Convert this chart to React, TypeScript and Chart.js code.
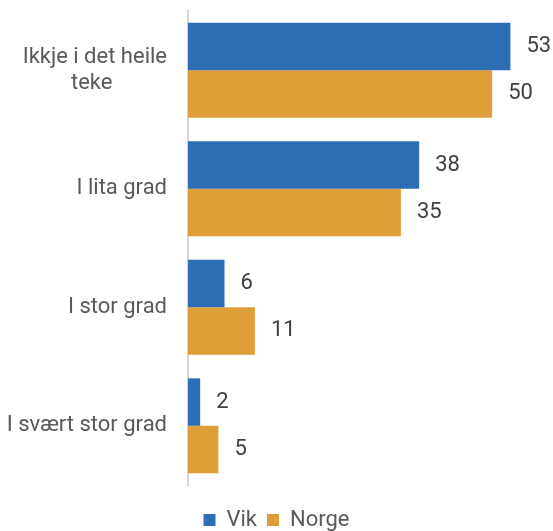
import React, { useEffect, useRef } from "react";
import { Chart, registerables } from "chart.js";

Chart.register(...registerables);

const categories: (string | string[])[] = [["Ikkje i det heile", "teke          "], "I lita grad", "I stor grad", "I svært stor grad"];
const vikValues = [53, 38, 6, 2];
const norgeValues = [50, 35, 11, 5];
const seriesNames = ["Vik", "Norge"];

const FONT = "Roboto, 'Noto Sans', sans-serif";
const FS = 22;

const labelPlugin = {
  id: "barLabels",
  afterDatasetsDraw(chart: any) {
    const ctx = chart.ctx;
    ctx.save();
    ctx.font = `${FS}px ${FONT}`;
    ctx.fillStyle = "#404040";
    ctx.textAlign = "left";
    ctx.textBaseline = "middle";
    chart.data.datasets.forEach((ds: any, i: number) => {
      const meta = chart.getDatasetMeta(i);
      meta.data.forEach((bar: any, j: number) => {
        ctx.fillText(String(ds.data[j]), bar.x + 16, bar.y);
      });
    });
    ctx.restore();
  },
};

export default function App() {
  const ref = useRef<HTMLCanvasElement>(null);
  useEffect(() => {
    if (!ref.current) return;
    const chart = new Chart(ref.current, {
      type: "bar",
      data: {
        labels: categories,
        datasets: [
          { label: seriesNames[0], data: vikValues, backgroundColor: "#2C6DB4" },
          { label: seriesNames[1], data: norgeValues, backgroundColor: "#DF9F38" },
        ],
      },
      options: {
        indexAxis: "y",
        responsive: false,
        animation: false,
        layout: { padding: { top: 11, right: 0, left: 0, bottom: -10 } },
        datasets: { bar: { categoryPercentage: 0.8, barPercentage: 1 } },
        scales: {
          x: {
            display: true,
            min: 0,
            max: 60,
            grid: { display: false, drawTicks: false },
            border: { display: false },
            ticks: { display: false },
            afterFit: (s: any) => {
              s.height = 14;
              s.paddingLeft = 0;
              s.paddingRight = 0;
            },
          },
          y: {
            grid: { display: false, drawTicks: false },
            border: { display: true, color: "#d6d6d6", width: 2 },
            ticks: { color: "#595959", font: { family: FONT, size: FS, lineHeight: 1.2 }, padding: 21 },
            afterFit: (s: any) => {
              s.width = 188;
              s.paddingTop = 0;
              s.paddingBottom = 0;
            },
          },
        },
        plugins: {
          legend: {
            position: "bottom",
            labels: { color: "#595959", font: { family: FONT, size: FS }, boxWidth: 12, boxHeight: 12, padding: 10 },
          },
          tooltip: { enabled: false },
        },
      },
      plugins: [labelPlugin],
    });
    return () => chart.destroy();
  }, []);
  return (
    <div style={{ position: "fixed", left: 0, top: 0, width: 553, height: 531, background: "#fff" }}>
      <canvas ref={ref} width={553} height={531} />
    </div>
  );
}
